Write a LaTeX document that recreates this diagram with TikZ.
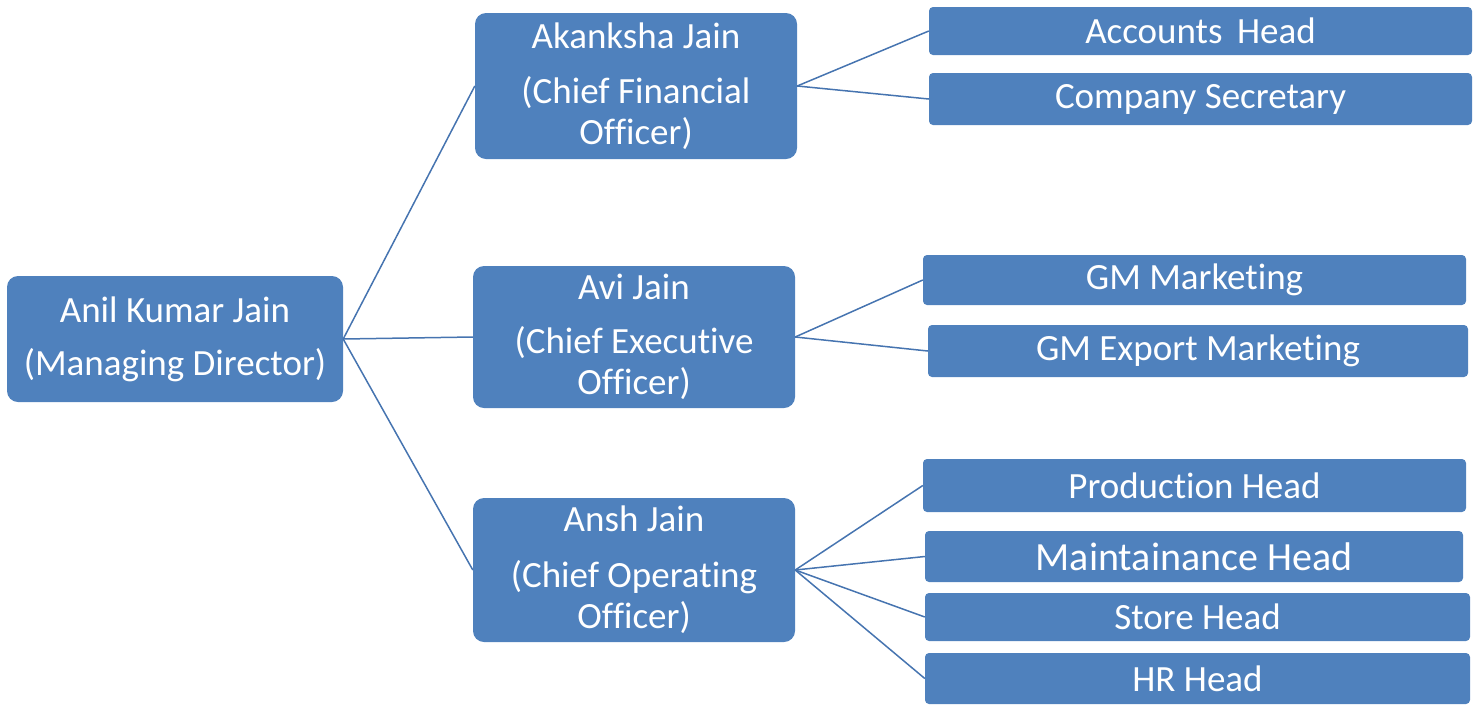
\documentclass[tikz,border=0pt]{standalone}
\usepackage{fontspec}
\setmainfont{Carlito}[RawFeature={-liga;-clig;-rlig;-calt;-dlig}]
\definecolor{boxblue}{HTML}{4F81BD}
\definecolor{linkblue}{HTML}{4674B0}
\tikzset{
	person/.style={fill=boxblue, text=white, rounded corners=11pt, inner sep=0pt,
		align=center, font=\fontsize{37}{41}\selectfont},
	post/.style={fill=boxblue, text=white, rounded corners=4pt, inner sep=0pt,
		align=center, font=\fontsize{37}{41}\selectfont},
	link/.style={draw=linkblue, line width=1.5pt}
}
\begin{document}
\begin{tikzpicture}[x=1pt, y=-1pt]
				\useasboundingbox (0,0) rectangle (1478,705);
				% heads
				\node[person, minimum width=336pt, minimum height=126pt] (md) at (175,339) {Anil Kumar Jain\\[12pt](Managing Director)};
				\node[person, minimum width=322pt, minimum height=146pt] (cfo) at (636,86) {Akanksha Jain\\[14pt](Chief Financial\\Officer)};
				\node[person, minimum width=322pt, minimum height=142pt] (ceo) at (634,337) {Avi Jain\\[13pt](Chief Executive\\Officer)};
				\node[person, minimum width=322pt, minimum height=144pt] (coo) at (634,570) {Ansh Jain\\[15pt](Chief Operating\\Officer)};
				% departments
				\node[post, minimum width=543pt, minimum height=48pt] (acc) at (1200.5,31) {Accounts\, Head};
				\node[post, minimum width=543pt, minimum height=52pt] (sec) at (1200.5,99) {Company Secretary};
				\node[post, minimum width=543pt, minimum height=50pt] (gmm) at (1194.5,280) {GM Marketing};
				\node[post, minimum width=540pt, minimum height=52pt] (gme) at (1198,351) {GM Export Marketing};
				\node[post, minimum width=543pt, minimum height=53pt] (prod) at (1194.5,485.5) {Production Head};
				\node[post, minimum width=538pt, minimum height=51pt, font=\fontsize{40}{44}\selectfont] (mnt) at (1194,556.5) {Maintainance Head};
				\node[post, minimum width=545pt, minimum height=48pt] (store) at (1197.5,617) {Store Head};
				\node[post, minimum width=545pt, minimum height=51pt] (hr) at (1197.5,678.5) {HR Head};
				% connectors
				\draw[link] (md.east) to (cfo.west);
				\draw[link] (md.east) to (ceo.west);
				\draw[link] (md.east) to (coo.west);
				\draw[link] (cfo.east) to (acc.west);
				\draw[link] (cfo.east) to (sec.west);
				\draw[link] (ceo.east) to (gmm.west);
				\draw[link] (ceo.east) to (gme.west);
				\draw[link] (coo.east) to (prod.west);
				\draw[link] (coo.east) to (mnt.west);
				\draw[link] (coo.east) to (store.west);
				\draw[link] (coo.east) to (hr.west);
\end{tikzpicture}
\end{document}
